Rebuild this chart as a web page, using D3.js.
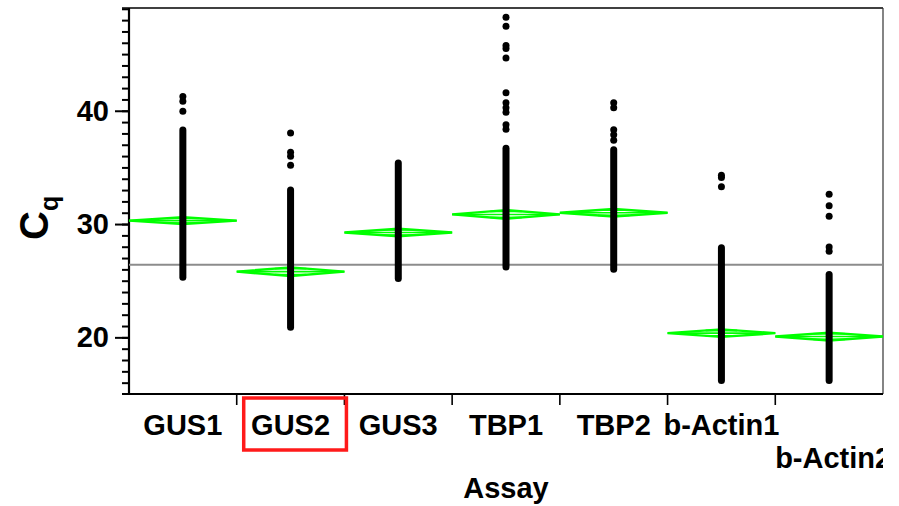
<!DOCTYPE html>
<html>
<head>
    <meta charset="utf-8" />
    <title>Cq by Assay</title>
    <style>
        body { margin: 0; background: #fff; }
        svg text { font-family: "Liberation Sans", Arial, sans-serif; font-weight: bold; fill: #000; }
    </style>
</head>
<body>
    <div id="chart"></div>
    <script src="https://cdn.jsdelivr.net/npm/d3@7"></script>
    <script>
        // ---- data ----
        var assays = ["GUS1", "GUS2", "GUS3", "TBP1", "TBP2", "b-Actin1", "b-Actin2"];
        var means = [30.3, 25.8, 29.25, 30.85, 31.0, 20.37, 20.07];
        var ciHalf = [0.3, 0.38, 0.33, 0.38, 0.33, 0.33, 0.35];
        // the bulk of each group: points so dense they form a solid column
        var denseLow = [25.3, 20.9, 25.2, 26.2, 26.0, 16.2, 16.2];
        var denseHigh = [38.3, 33.0, 35.4, 36.7, 36.55, 27.9, 25.55];
        // separated points above the columns
        var outliers = [
            [41.25, 40.85, 39.95],
            [38.04, 36.34, 35.99, 35.2],
            [],
            [48.26, 47.47, 45.77, 45.5, 44.65, 41.6, 40.7, 40.26, 39.87, 38.77, 38.37],
            [40.7, 40.26, 38.33, 37.89, 37.4],
            [34.3, 34.1, 33.29],
            [32.62, 31.61, 30.7, 27.97, 27.6]
        ];
        var grandMean = 26.4;
        var yMajor = [20, 30, 40];
        var yMinor = d3.range(16, 50);
        var highlighted = "GUS2";

        var W = 899, H = 506;
        var pLeft = 129, pRight = 883, pTop = 8, pBottom = 394;
        var dotR = 3.5;
        var green = "#00ff00";
        var fontSize = "29px";

        var svg = d3.select("#chart").append("svg")
            .attr("width", W)
            .attr("height", H);

        var x = d3.scaleBand().domain(assays).range([pLeft, pRight]).padding(0);
        var y = d3.scaleLinear().domain([15, 49.07]).range([pBottom, pTop]);
        var bw = x.bandwidth();

        // frame: top and right border
        svg.append("line")
            .attr("x1", pLeft - 7).attr("x2", pRight)
            .attr("y1", pTop).attr("y2", pTop)
            .attr("stroke", "#000").attr("stroke-width", 1.6);
        svg.append("line")
            .attr("x1", pRight).attr("x2", pRight)
            .attr("y1", pTop).attr("y2", pBottom)
            .attr("stroke", "#333").attr("stroke-width", 1.2);

        // y axis (minor then major)
        var yMinorAxis = d3.axisLeft(y).tickValues(yMinor).tickSize(7).tickFormat("");
        var yMajorAxis = d3.axisLeft(y).tickValues(yMajor).tickSize(14).tickPadding(6);
        svg.append("g").attr("class", "y minor")
            .attr("transform", "translate(" + pLeft + ",0)")
            .call(yMinorAxis);
        svg.append("g").attr("class", "y major")
            .attr("transform", "translate(" + pLeft + ",0)")
            .call(yMajorAxis);
        svg.selectAll(".y .domain").remove();
        svg.selectAll(".y .tick line").attr("stroke", "#000").attr("stroke-width", 2);
        svg.selectAll(".y.major text")
            .style("font-size", fontSize)
            .style("font-family", "'Liberation Sans', Arial, sans-serif")
            .style("font-weight", "bold")
            .attr("fill", "#000");
        svg.append("line")
            .attr("x1", pLeft).attr("x2", pLeft)
            .attr("y1", pTop).attr("y2", pBottom)
            .attr("stroke", "#000").attr("stroke-width", 2.2);

        // x axis line and category separators
        svg.append("line")
            .attr("x1", pLeft - 7).attr("x2", pRight)
            .attr("y1", pBottom).attr("y2", pBottom)
            .attr("stroke", "#000").attr("stroke-width", 2.2);
        svg.selectAll(".xsep")
            .data(assays.slice(1))
            .join("line")
            .attr("class", "xsep")
            .attr("x1", d => x(d)).attr("x2", d => x(d))
            .attr("y1", pBottom).attr("y2", pBottom + 11)
            .attr("stroke", "#000").attr("stroke-width", 1.6);

        // grand mean line
        svg.append("line")
            .attr("x1", pLeft).attr("x2", pRight)
            .attr("y1", y(grandMean)).attr("y2", y(grandMean))
            .attr("stroke", "#8c8c8c").attr("stroke-width", 2);

        // means diamonds
        var groups = assays.map(function (a, i) {
            return { name: a, mean: means[i], ci: ciHalf[i], lo: denseLow[i], hi: denseHigh[i], out: outliers[i] };
        });
        var dg = svg.append("g").attr("class", "diamonds");
        groups.forEach(function (g) {
            var x0 = x(g.name), x1 = x0 + bw, xc = x0 + bw / 2;
            var pts = [[x0, y(g.mean)], [xc, y(g.mean + g.ci)], [x1, y(g.mean)], [xc, y(g.mean - g.ci)]];
            dg.append("polygon")
                .attr("points", pts.map(p => p.join(",")).join(" "))
                .attr("fill", "none")
                .attr("stroke", green)
                .attr("stroke-width", 2.4)
                .attr("stroke-linejoin", "bevel");
            dg.append("line")
                .attr("x1", x0).attr("x2", x1)
                .attr("y1", y(g.mean)).attr("y2", y(g.mean))
                .attr("stroke", green).attr("stroke-width", 1.6);
            var ov = g.ci * Math.SQRT1_2;
            var hw = (bw / 2) * (1 - Math.SQRT1_2);
            [g.mean + ov, g.mean - ov].forEach(function (v) {
                dg.append("line")
                    .attr("x1", xc - hw).attr("x2", xc + hw)
                    .attr("y1", y(v)).attr("y2", y(v))
                    .attr("stroke", green).attr("stroke-width", 1.8);
            });
        });

        // points: solid columns + separated points
        var pg = svg.append("g").attr("class", "points");
        pg.selectAll(".col")
            .data(groups)
            .join("line")
            .attr("class", "col")
            .attr("x1", d => x(d.name) + bw / 2).attr("x2", d => x(d.name) + bw / 2)
            .attr("y1", d => y(d.hi)).attr("y2", d => y(d.lo))
            .attr("stroke", "#000")
            .attr("stroke-width", dotR * 2)
            .attr("stroke-linecap", "round");
        pg.selectAll(".dot")
            .data(groups.flatMap(g => g.out.map(v => ({ name: g.name, v: v }))))
            .join("circle")
            .attr("class", "dot")
            .attr("cx", d => x(d.name) + bw / 2)
            .attr("cy", d => y(d.v))
            .attr("r", dotR)
            .attr("fill", "#000");

        // x tick labels, staggered when they would collide
        svg.append("clipPath").attr("id", "xclip")
            .append("rect").attr("x", 0).attr("y", pBottom).attr("width", pRight).attr("height", H - pBottom);
        var lg = svg.append("g").attr("clip-path", "url(#xclip)");
        var lastRight = -Infinity;
        assays.forEach(function (a) {
            var t = lg.append("text")
                .attr("x", x(a) + bw / 2)
                .attr("y", 435)
                .attr("text-anchor", "middle")
                .style("font-size", fontSize)
                .text(a);
            var w = t.node().getComputedTextLength();
            var l = x(a) + bw / 2 - w / 2;
            if (l < lastRight + 2) {
                // dropped to a second row, pushed just right of the previous label's tick
                t.attr("y", 468).attr("x", x(a) + bw / 2 + 4);
                lastRight = -Infinity;
            } else {
                lastRight = l + w;
            }
        });

        // highlight box around GUS2
        svg.append("rect")
            .attr("x", x(highlighted) + 7)
            .attr("y", 398)
            .attr("width", bw - 5)
            .attr("height", 52)
            .attr("fill", "none")
            .attr("stroke", "#ff1a1a")
            .attr("stroke-width", 3.5);

        // axis titles
        svg.append("text")
            .attr("x", (pLeft + pRight) / 2)
            .attr("y", 498)
            .attr("text-anchor", "middle")
            .style("font-size", fontSize)
            .text("Assay");

        var yt = svg.append("text")
            .attr("transform", "translate(48,240) rotate(-90)")
            .attr("text-anchor", "start");
        yt.append("tspan").style("font-size", "40px").text("C");
        yt.append("tspan").attr("dy", 10).style("font-size", "25px").text("q");
    </script>
</body>
</html>
